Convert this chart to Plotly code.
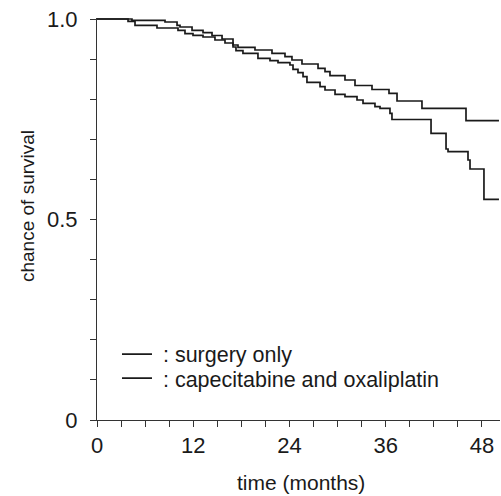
import plotly.graph_objects as go

# Kaplan-Meier step data (months, survival probability)
surgery_months = [0, 3.87, 4.74, 7.48, 10.10, 10.97, 11.97, 13.22, 14.71, 15.96, 16.96, 17.33,
                  18.20, 20.07, 21.57, 22.57, 24.06, 24.44, 25.06, 25.69, 26.18, 27.81, 28.43,
                  29.68, 30.92, 32.42, 33.17, 34.66, 35.29, 36.53, 36.78, 41.65, 43.52, 43.77,
                  46.26, 46.51, 48.25, 50.12]
surgery_surv = [1.0, 0.9943, 0.9843, 0.9776, 0.9718, 0.9633, 0.9593, 0.9551, 0.9476, 0.9401,
                0.9302, 0.9210, 0.9144, 0.9019, 0.8960, 0.8910, 0.8853, 0.8746, 0.8661, 0.8561,
                0.8421, 0.8312, 0.8229, 0.8122, 0.8062, 0.7980, 0.7898, 0.7813, 0.7773, 0.7648,
                0.7494, 0.7149, 0.6758, 0.6691, 0.6484, 0.6259, 0.5503, 0.5503]

capox_months = [0, 4.36, 8.48, 9.98, 10.35, 11.85, 13.22, 14.34, 15.59, 16.96, 17.58, 19.70,
                21.82, 23.44, 24.31, 25.56, 27.56, 28.43, 29.05, 30.92, 32.17, 34.29, 36.41,
                37.41, 40.52, 46.01, 50.12]
capox_surv = [1.0, 0.9968, 0.9925, 0.9843, 0.9800, 0.9718, 0.9658, 0.9589, 0.9501, 0.9352,
              0.9294, 0.9227, 0.9145, 0.9060, 0.8978, 0.8878, 0.8770, 0.8686, 0.8586, 0.8479,
              0.8342, 0.8242, 0.8147, 0.7955, 0.7773, 0.7464, 0.7464]

series_names = ["\u00a0:\u00a0surgery only", "\u00a0:\u00a0capecitabine and oxaliplatin"]
x_tick_vals = [0, 12, 24, 36, 48]
x_tick_text = ["0", "12", "24", "36", "48"]
y_tick_vals = [0, 0.5, 1.0]
y_tick_text = ["0", "0.5", "1.0"]

FONT = "Liberation Sans, Arial, sans-serif"
INK = "#1a1a1a"
AX = "#333333"

fig = go.Figure()
fig.add_trace(go.Scatter(x=surgery_months, y=surgery_surv, mode="lines", name=series_names[0],
                         legend="legend",
                         line=dict(shape="hv", color=INK, width=1.7)))
fig.add_trace(go.Scatter(x=capox_months, y=capox_surv, mode="lines", name=series_names[1],
                         legend="legend2",
                         line=dict(shape="hv", color=INK, width=1.7)))

legend_common = dict(xanchor="left", yanchor="middle", bgcolor="rgba(0,0,0,0)",
                     font=dict(size=21.5, color=INK), itemwidth=30, tracegroupgap=0)

fig.update_layout(
    width=501, height=496,
    margin=dict(l=97, r=1, t=18, b=76),
    paper_bgcolor="white", plot_bgcolor="white",
    font=dict(family=FONT, size=21, color=INK),
    showlegend=True,
    legend=dict(x=0.0496, y=0.164, **legend_common),
    legend2=dict(x=0.0496, y=0.104, **legend_common),
    xaxis=dict(range=[0, 50.25], showgrid=False, zeroline=False, automargin=False,
               showline=True, linecolor=AX, linewidth=1,
               tickmode="array", tickvals=x_tick_vals, ticktext=x_tick_text,
               ticks="outside", ticklen=6, tickcolor=AX, ticklabelstandoff=0,
               minor=dict(dtick=3, tick0=0, ticks="outside", ticklen=6, tickcolor=AX),
               tickfont=dict(size=22)),
    yaxis=dict(range=[0, 1.0025], showgrid=False, zeroline=False, automargin=False,
               showline=True, linecolor=AX, linewidth=1,
               tickmode="array", tickvals=y_tick_vals, ticktext=y_tick_text,
               ticks="outside", ticklen=6, tickcolor=AX, ticklabelstandoff=8,
               minor=dict(dtick=0.1, tick0=0, ticks="outside", ticklen=6, tickcolor=AX),
               tickfont=dict(size=22)),
    annotations=[
        dict(text="time (months)", xref="paper", yref="paper", x=0.505, y=-0.155,
             xanchor="center", yanchor="middle", showarrow=False, font=dict(size=21)),
        dict(text="chance of survival", xref="paper", yref="paper", x=-0.174, y=0.532,
             xanchor="center", yanchor="middle", textangle=-90, showarrow=False,
             font=dict(size=19)),
    ],
)

fig.write_html("out.html", config={"displayModeBar": False},
               post_script="document.body.style.margin='0';")
